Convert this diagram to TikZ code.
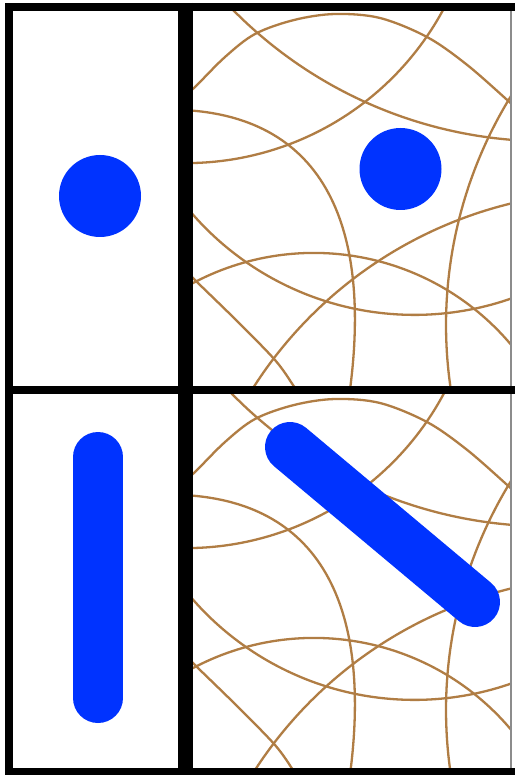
\documentclass[tikz,border=0pt]{standalone}
\definecolor{fibcol}{RGB}{176,125,68}
\definecolor{blobcol}{RGB}{0,51,255}
\newcommand\fibarc[5]{%
  \draw[fib] plot[domain=#4:#5, samples=70, variable=\t] ({#1+#3*cos(\t)},{#2+#3*sin(\t)});}
\newcommand\fibpattern{%
  \fibarc{547.1}{-299.9}{441.2}{137}{91}%   A
  \fibarc{186.2}{-128.9}{292}{25}{93}%      B
  \fibarc{882}{325}{436}{215}{167}%         D
  \fibarc{414.4}{20.2}{294.7}{142}{66}%     F
  \fibarc{313.9}{510.5}{257.6}{-121}{-34}%  G
  \fibarc{611.5}{616.5}{425.1}{-101}{-149}% H
  % C
  \draw[fib] plot[smooth, tension=0.55] coordinates {(184,96) (195,87) (225,57) (255,34) (294,20) (335,14) (380,18) (427,37) (466,64) (505,98) (522,114)};
  % E
  \draw[fib] (183,110) .. controls (325,117) and (373,228) .. (349,397);
  % I
  \draw[fib] plot[smooth, tension=0.55] coordinates {(187,272) (198,283) (237,321) (275,360) (293,385) (299,395)};
}
\begin{document}
\begin{tikzpicture}[x=1pt,y=-1pt,
  fib/.style={draw=fibcol, line width=2.3pt},
  blob/.style={fill=blobcol},
  rod/.style={draw=blobcol, line width=50pt, line cap=round},
  frameline/.style={draw=black, line width=8pt, line join=miter},
  divider/.style={draw=black, line width=15pt},
  edgeline/.style={draw=black!45, line width=1.3pt}]
\useasboundingbox (0,0) rectangle (514,775);
\fill[white] (0,0) rectangle (514,775);
% coordinates of the blue objects
\coordinate (dotL) at (100,196);
\coordinate (dotR) at (400.5,169);
\coordinate (rodLa) at (98,457);
\coordinate (rodLb) at (98,698);
\coordinate (rodRa) at (290,447);
\coordinate (rodRb) at (475,602);
% fibre meshes
\begin{scope}
  \clip (186,7) rectangle (511,390);
  \fibpattern
\end{scope}
\begin{scope}
  \clip (186,390) rectangle (511,772);
  \begin{scope}[shift={(0,385)}]
    \fibpattern
  \end{scope}
\end{scope}
% blue objects
\fill[blob] (dotL) circle[radius=41];
\fill[blob] (dotR) circle[radius=41];
\draw[rod] (rodLa) -- (rodLb);
\draw[rod] (rodRa) -- (rodRb);
% frame
\draw[edgeline] (511,7) -- (511,772);
\draw[frameline] (9,780) -- (9,7) -- (520,7);
\draw[frameline] (5,772) -- (520,772);
\draw[frameline] (9,390) -- (520,390);
\draw[divider] (185.5,3) -- (185.5,780);
\end{tikzpicture}
\end{document}
